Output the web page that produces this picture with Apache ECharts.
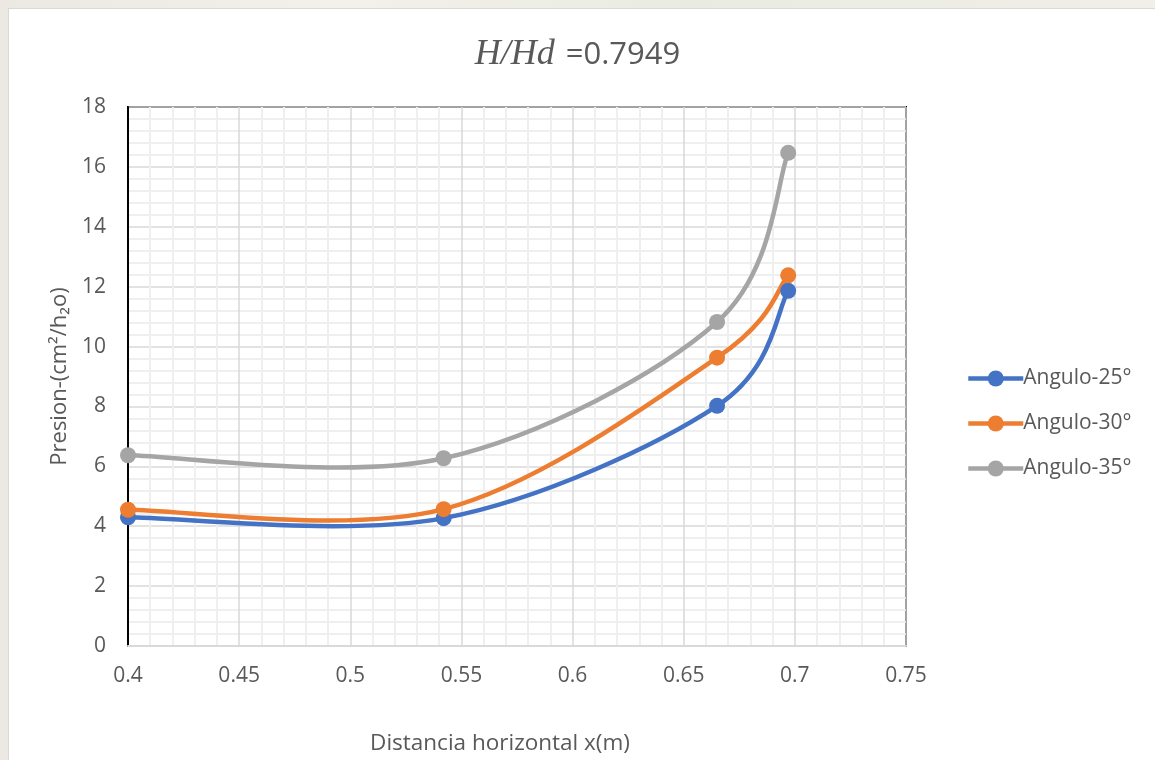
<!DOCTYPE html>
<html>
<head>
<meta charset="utf-8">
<script src="https://cdn.jsdelivr.net/npm/echarts@6/dist/echarts.min.js"></script>
<style>
  html, body { margin: 0; padding: 0; }
  body {
    width: 1155px; height: 760px; overflow: hidden; position: relative;
    background: linear-gradient(90deg, #ebe9e1 0%, #f2f1ea 30%, #e9ebe0 60%, #f0efe8 100%);
  }
  #sheet {
    position: absolute; left: 8px; top: 8px; width: 1160px; height: 760px;
    background: #ffffff; border: 1px solid #d9d9d9; box-sizing: border-box;
  }
  #chart { position: absolute; left: 0; top: 0; width: 1155px; height: 760px; }
</style>
</head>
<body>
<div id="sheet"></div>
<div id="chart"></div>
<script>
// Horizontal distance along the crest (m)
const distancia = [0.4, 0.542, 0.665, 0.697];
// Pressure readings for each angle (cm of water)
const angulo25 = [4.3, 4.27, 8.02, 11.86];
const angulo30 = [4.55, 4.57, 9.63, 12.38];
const angulo35 = [6.37, 6.27, 10.82, 16.47];
const seriesNames = ['Angulo-25°', 'Angulo-30°', 'Angulo-35°'];
const seriesColors = ['#4472C4', '#ED7D31', '#A5A5A5'];

const labelColor = '#595959';
const fontFamily = '"Open Sans", "Noto Sans", sans-serif';

function pairs(xs, ys) { return xs.map((x, i) => [x, ys[i]]); }

const allValues = [angulo25, angulo30, angulo35];

// Smooth curve through the points (Catmull-Rom style cubic Bezier segments),
// computed in pixel space from the axis scales.
function smoothCurveSeries(values, color, idx) {
  const data = pairs(distancia, values);
  return {
    name: 'curva-' + idx,
    type: 'custom',
    coordinateSystem: 'cartesian2d',
    silent: true,
    z: 2 + idx * 0.1,
    data: data,
    encode: { x: 0, y: 1 },
    renderItem: function (params, api) {
      if (params.dataIndex !== 0) return null;
      const p = data.map(d => api.coord(d));
      const n = p.length;
      let d = 'M' + p[0][0] + ',' + p[0][1];
      for (let i = 0; i < n - 1; i++) {
        const p0 = p[Math.max(i - 1, 0)], p1 = p[i], p2 = p[i + 1], p3 = p[Math.min(i + 2, n - 1)];
        const c1x = p1[0] + (p2[0] - p0[0]) / 6, c1y = p1[1] + (p2[1] - p0[1]) / 6;
        const c2x = p2[0] - (p3[0] - p1[0]) / 6, c2y = p2[1] - (p3[1] - p1[1]) / 6;
        d += ' C' + c1x + ',' + c1y + ' ' + c2x + ',' + c2y + ' ' + p2[0] + ',' + p2[1];
      }
      return {
        type: 'path',
        shape: { pathData: d },
        style: { fill: 'none', stroke: color, lineWidth: 4.5, lineCap: 'round', lineJoin: 'round' }
      };
    }
  };
}

const chart = echarts.init(document.getElementById('chart'), null, { renderer: 'canvas' });
chart.setOption({
  backgroundColor: 'transparent',
  animation: false,
  title: {
    text: '{it|H/Hd} {n|=0.7949}',
    left: 'center',
    top: 32,
    textStyle: {
      fontWeight: 'normal',
      rich: {
        it: { fontFamily: '"Liberation Serif", "DejaVu Serif", serif', fontStyle: 'italic', fontWeight: 'normal', fontSize: 36, color: labelColor, padding: [0, 6, 0, 0] },
        n: { fontFamily: fontFamily, fontWeight: 'normal', fontSize: 31, color: labelColor }
      }
    }
  },
  legend: {
    orient: 'vertical',
    left: 961,
    top: 363,
    itemGap: 24,
    itemWidth: 55,
    itemHeight: 20,
    lineStyle: { width: 4.5, opacity: 1 },
    textStyle: { fontFamily: fontFamily, fontSize: 21, color: labelColor, padding: [0, 0, 0, -5] },
    data: seriesNames
  },
  grid: {
    left: 128, top: 107, right: 249, bottom: 114,
    show: true, borderColor: '#000000', borderWidth: 2, backgroundColor: 'transparent'
  },
  xAxis: {
    type: 'value',
    min: 0.4, max: 0.75, interval: 0.05,
    name: 'Distancia horizontal x(m)',
    nameLocation: 'middle',
    nameGap: 86,
    nameTextStyle: { fontFamily: fontFamily, fontSize: 22.5, color: labelColor, padding: [0, 34, 0, 0] },
    axisLine: { show: true, onZero: false, lineStyle: { color: '#d9d9d9', width: 2 } },
    axisTick: { show: false },
    axisLabel: { margin: 20, fontFamily: fontFamily, fontSize: 21, color: labelColor,
      formatter: v => String(parseFloat(v.toFixed(2))) },
    splitLine: { show: true, lineStyle: { color: '#d9d9d9', width: 1.5 } },
    minorTick: { show: false, splitNumber: 5 },
    minorSplitLine: { show: true, lineStyle: { color: '#efefef', width: 2 } }
  },
  yAxis: {
    type: 'value',
    min: 0, max: 18, interval: 2,
    name: 'Presion-(cm²/h₂o)',
    nameLocation: 'middle',
    nameGap: 56,
    nameRotate: 90,
    nameTextStyle: { fontFamily: fontFamily, fontSize: 22, color: labelColor },
    axisLine: { show: true, lineStyle: { color: '#000000', width: 2 } },
    axisTick: { show: false },
    axisLabel: { margin: 22, fontFamily: fontFamily, fontSize: 21, color: labelColor },
    splitLine: { show: true, lineStyle: { color: '#d9d9d9', width: 1.5 } },
    minorTick: { show: false, splitNumber: 5 },
    minorSplitLine: { show: true, lineStyle: { color: '#efefef', width: 2 } }
  },
  series: seriesNames.map((name, i) => smoothCurveSeries(allValues[i], seriesColors[i], i)).concat(
    seriesNames.map((name, i) => ({
      name: name,
      type: 'line',
      data: pairs(distancia, allValues[i]),
      symbol: 'circle',
      symbolSize: 16,
      lineStyle: { width: 4.5, color: seriesColors[i], opacity: 0 },
      itemStyle: { color: seriesColors[i] },
      z: 3 + i * 0.1
    }))
  )
});
</script>
</body>
</html>
